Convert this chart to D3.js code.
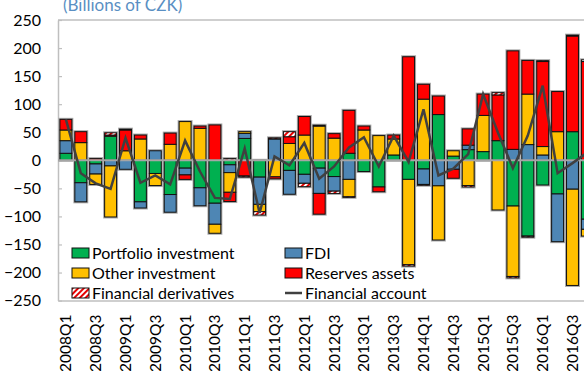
<!DOCTYPE html>
<html>
<head>
<meta charset="utf-8">
<script src="https://cdn.jsdelivr.net/npm/d3@7"></script>
<style>
  html, body { margin: 0; padding: 0; background: #fff; }
  svg { display: block; font-family: Lato, "Open Sans", sans-serif; }
</style>
</head>
<body>
<svg id="chart" width="584" height="371"></svg>
<script>
// Czech balance of payments: financial account by component, billions of CZK
const quarters = [
  "2008Q1","2008Q2","2008Q3","2008Q4","2009Q1","2009Q2","2009Q3","2009Q4",
  "2010Q1","2010Q2","2010Q3","2010Q4","2011Q1","2011Q2","2011Q3","2011Q4",
  "2012Q1","2012Q2","2012Q3","2012Q4","2013Q1","2013Q2","2013Q3","2013Q4",
  "2014Q1","2014Q2","2014Q3","2014Q4","2015Q1","2015Q2","2015Q3","2015Q4",
  "2016Q1","2016Q2","2016Q3","2016Q4"
];
const tickLabels = [
  "2008Q1","2008Q3","2009Q1","2009Q3","2010Q1","2010Q3","2011Q1","2011Q3",
  "2012Q1","2012Q3","2013Q1","2013Q3","2014Q1","2014Q3","2015Q1","2015Q3",
  "2016Q1","2016Q3"
];
const portfolio = [
  12.5, -40, -6.5, 43, 0, -74, -23.5, -61,
  -14, -49, -76.5, -8, 39, -30, 0, -18,
  -25, -14, -29, 12.5, -20, -47.5, 9.5, -34,
  -15.5, 81.5, 7.5, 19, 15.5, 35, -81.5, -135,
  -44, -60, 51, -105
];
const fdi = [
  22.5, -34, -18, -10, -16, -11, 17, -31.5,
  -12, -32, -37.5, -14, 9, -48.5, 38, -42.5,
  -16, -45, -26, -34, 0, 0, 0, 0,
  -27.5, -45.5, -16, 8, 0, 0, 19.5, 28,
  9.5, -85, -51.5, -18
];
const other = [
  19, 31.5, -18.5, -91, 17, 38, -21.5, 28.5,
  69, 57, -16, -35, 3, -13, -29.5, 30,
  45, 61, 39.5, -31, 54, 44, 28.5, -152,
  109, -96.5, 9.5, -45, 64.5, -88.5, -125.5, 90,
  15, 51, -171.5, -12
];
const reserves = [
  19, 19.5, 3, 2, 37, 7, 0, 20,
  -8, 4, 63, -16.5, -28, 0, -3.5, 12,
  33, -37, 8, 76.5, 7, -8.5, 7, 184.5,
  26.5, 33, -16, 29, 38, 81.5, 175.5, 60,
  151.5, 71.5, 170.5, 176
];
const derivatives = [
  0, 0, 0, 4, 1.5, 0, 0, 0,
  0, 0, 0, 3, -2, -6, 2, 9,
  -6, 1.5, -4, -1, 0, 0, 0, -2.5,
  -1.5, 0, 0, -2.5, 0, 4, -2.5, -2,
  1.5, 0, 1.5, 3
];
const financialAccount = [
  73, -23, -41, -51, 40, -40, -27, -43,
  35, -20, -67, -69, 21, -94, 7, -9,
  31, -33, -11, 23, 41, -11, 44, -3,
  91, -27, -15, 11, 118, 49, -14, 44,
  133, -23, -5, 14
];
const yTicks = [-250, -200, -150, -100, -50, 0, 50, 100, 150, 200, 250];

const seriesInfo = [
  { key: "portfolio",   name: "Portfolio investment",  fill: "#00b050" },
  { key: "fdi",         name: "FDI",                   fill: "#4e86b4" },
  { key: "other",       name: "Other investment",      fill: "#ffc000" },
  { key: "reserves",    name: "Reserves assets",       fill: "#ff0000" },
  { key: "derivatives", name: "Financial derivatives", fill: "url(#hatch)" }
];
const columns = { portfolio, fdi, other, reserves, derivatives };

const rows = quarters.map((q, i) => {
  const r = { quarter: q };
  seriesInfo.forEach(s => { r[s.key] = columns[s.key][i]; });
  return r;
});

const svg = d3.select("#chart");
const plotLeft = 58, plotTop = 20, plotBottom = 300.6, plotRight = 584;

// hatch for financial derivatives
const defs = svg.append("defs");
const pat = defs.append("pattern")
  .attr("id", "hatch").attr("patternUnits", "userSpaceOnUse")
  .attr("width", 4).attr("height", 4)
  .attr("patternTransform", "rotate(45)");
pat.append("rect").attr("width", 4).attr("height", 4).attr("fill", "#fff");
pat.append("rect").attr("width", 2).attr("height", 4).attr("fill", "#e60000");

const x = d3.scaleBand()
  .domain(quarters)
  .range([58.45, 594.85])
  .paddingInner(0.2)
  .paddingOuter(0.1);
const y = d3.scaleLinear().domain([-250, 250]).range([plotBottom, plotTop]);

// title (sits partly above the page edge)
svg.append("text")
  .attr("x", 63).attr("y", 11)
  .attr("fill", "#5a8fc3")
  .attr("font-size", 17)
  .text("(Billions of CZK)");

// plot frame: top and bottom edges
svg.append("line")
  .attr("x1", plotLeft).attr("x2", plotRight)
  .attr("y1", plotTop).attr("y2", plotTop)
  .attr("stroke", "#bfbfbf").attr("stroke-width", 1.5);

// y axis
const yAxis = svg.append("g")
  .attr("transform", `translate(${plotLeft},0)`)
  .call(d3.axisLeft(y).tickValues(yTicks).tickSize(-4).tickPadding(17).tickSizeOuter(0));
yAxis.select(".domain").attr("stroke", "#bfbfbf").attr("stroke-width", 1.5);
yAxis.selectAll(".tick line").attr("stroke", "#bfbfbf").attr("stroke-width", 1.2);
yAxis.selectAll(".tick text")
  .attr("font-family", "Lato, sans-serif")
  .attr("font-size", 16).attr("fill", "#000");

// x axis with rotated quarter labels
const xAxis = svg.append("g")
  .attr("transform", `translate(0,${plotBottom})`)
  .call(d3.axisBottom(x).tickValues(tickLabels).tickSize(0).tickSizeOuter(0));
xAxis.select(".domain").attr("stroke", "#bfbfbf").attr("stroke-width", 1.5);
xAxis.selectAll(".tick text")
  .attr("font-family", "Lato, sans-serif")
  .attr("font-size", 15.5).attr("fill", "#000")
  .attr("text-anchor", "end")
  .attr("dy", "0.35em")
  .attr("transform", "translate(0,14) rotate(-90)")
  .attr("x", 0).attr("y", 0);

// stacked bars: positives and negatives stacked separately
const stacked = d3.stack()
  .keys(seriesInfo.map(s => s.key))
  .offset(d3.stackOffsetDiverging)(rows);

const bw = x.bandwidth();

// soft grey outline around each full column
const extents = rows.map((r, i) => {
  let lo = 0, hi = 0;
  stacked.forEach(layer => { lo = Math.min(lo, layer[i][0], layer[i][1]); hi = Math.max(hi, layer[i][0], layer[i][1]); });
  return { quarter: r.quarter, lo, hi };
});
svg.append("g").selectAll("rect").data(extents).join("rect")
  .attr("x", d => x(d.quarter)).attr("width", bw)
  .attr("y", d => y(d.hi)).attr("height", d => y(d.lo) - y(d.hi))
  .attr("fill", "none").attr("stroke", "#a8a8a8").attr("stroke-width", 3);

const layerG = svg.append("g").selectAll("g").data(stacked).join("g")
  .attr("fill", (d, i) => seriesInfo[i].fill);
layerG.selectAll("rect")
  .data(d => d.filter(s => s[1] !== s[0]))
  .join("rect")
  .attr("x", d => x(d.data.quarter))
  .attr("width", bw)
  .attr("y", d => y(Math.max(d[0], d[1])))
  .attr("height", d => Math.abs(y(d[0]) - y(d[1])))
  .attr("stroke", "#111").attr("stroke-width", 1);

// zero line
svg.append("line")
  .attr("x1", plotLeft).attr("x2", plotRight)
  .attr("y1", y(0)).attr("y2", y(0))
  .attr("stroke", "#a6a6a6").attr("stroke-width", 2);

// financial account line
const line = d3.line()
  .x((d, i) => x(quarters[i]) + bw / 2)
  .y(d => y(d));
svg.append("path")
  .datum(financialAccount)
  .attr("d", line)
  .attr("fill", "none")
  .attr("stroke", "#404040")
  .attr("stroke-width", 2.5)
  .attr("stroke-linejoin", "miter");

// legend
const legendItems = [
  { name: "Portfolio investment", fill: "#00b050", col: 0, row: 0 },
  { name: "FDI", fill: "#4e86b4", col: 1, row: 0 },
  { name: "Other investment", fill: "#ffc000", col: 0, row: 1 },
  { name: "Reserves assets", fill: "#ff0000", col: 1, row: 1 },
  { name: "Financial derivatives", fill: "url(#hatch)", col: 0, row: 2 },
  { name: "Financial account", line: true, col: 1, row: 2 }
];
const colX = [72, 285], rowY = [253, 273, 293];
const lg = svg.append("g").selectAll("g").data(legendItems).join("g")
  .attr("transform", d => `translate(${colX[d.col]},${rowY[d.row]})`);
lg.filter(d => !d.line).append("rect")
  .attr("x", 0).attr("y", -5).attr("width", 17).attr("height", 10)
  .attr("fill", d => d.fill).attr("stroke", "#111").attr("stroke-width", 1);
lg.filter(d => d.line).append("line")
  .attr("x1", 0).attr("x2", 17).attr("y1", 0).attr("y2", 0)
  .attr("stroke", "#404040").attr("stroke-width", 2.5);
lg.append("text")
  .attr("x", 20).attr("y", 0).attr("dy", "0.36em")
  .attr("font-size", 16).attr("fill", "#000")
  .text(d => d.name);
</script>
</body>
</html>
